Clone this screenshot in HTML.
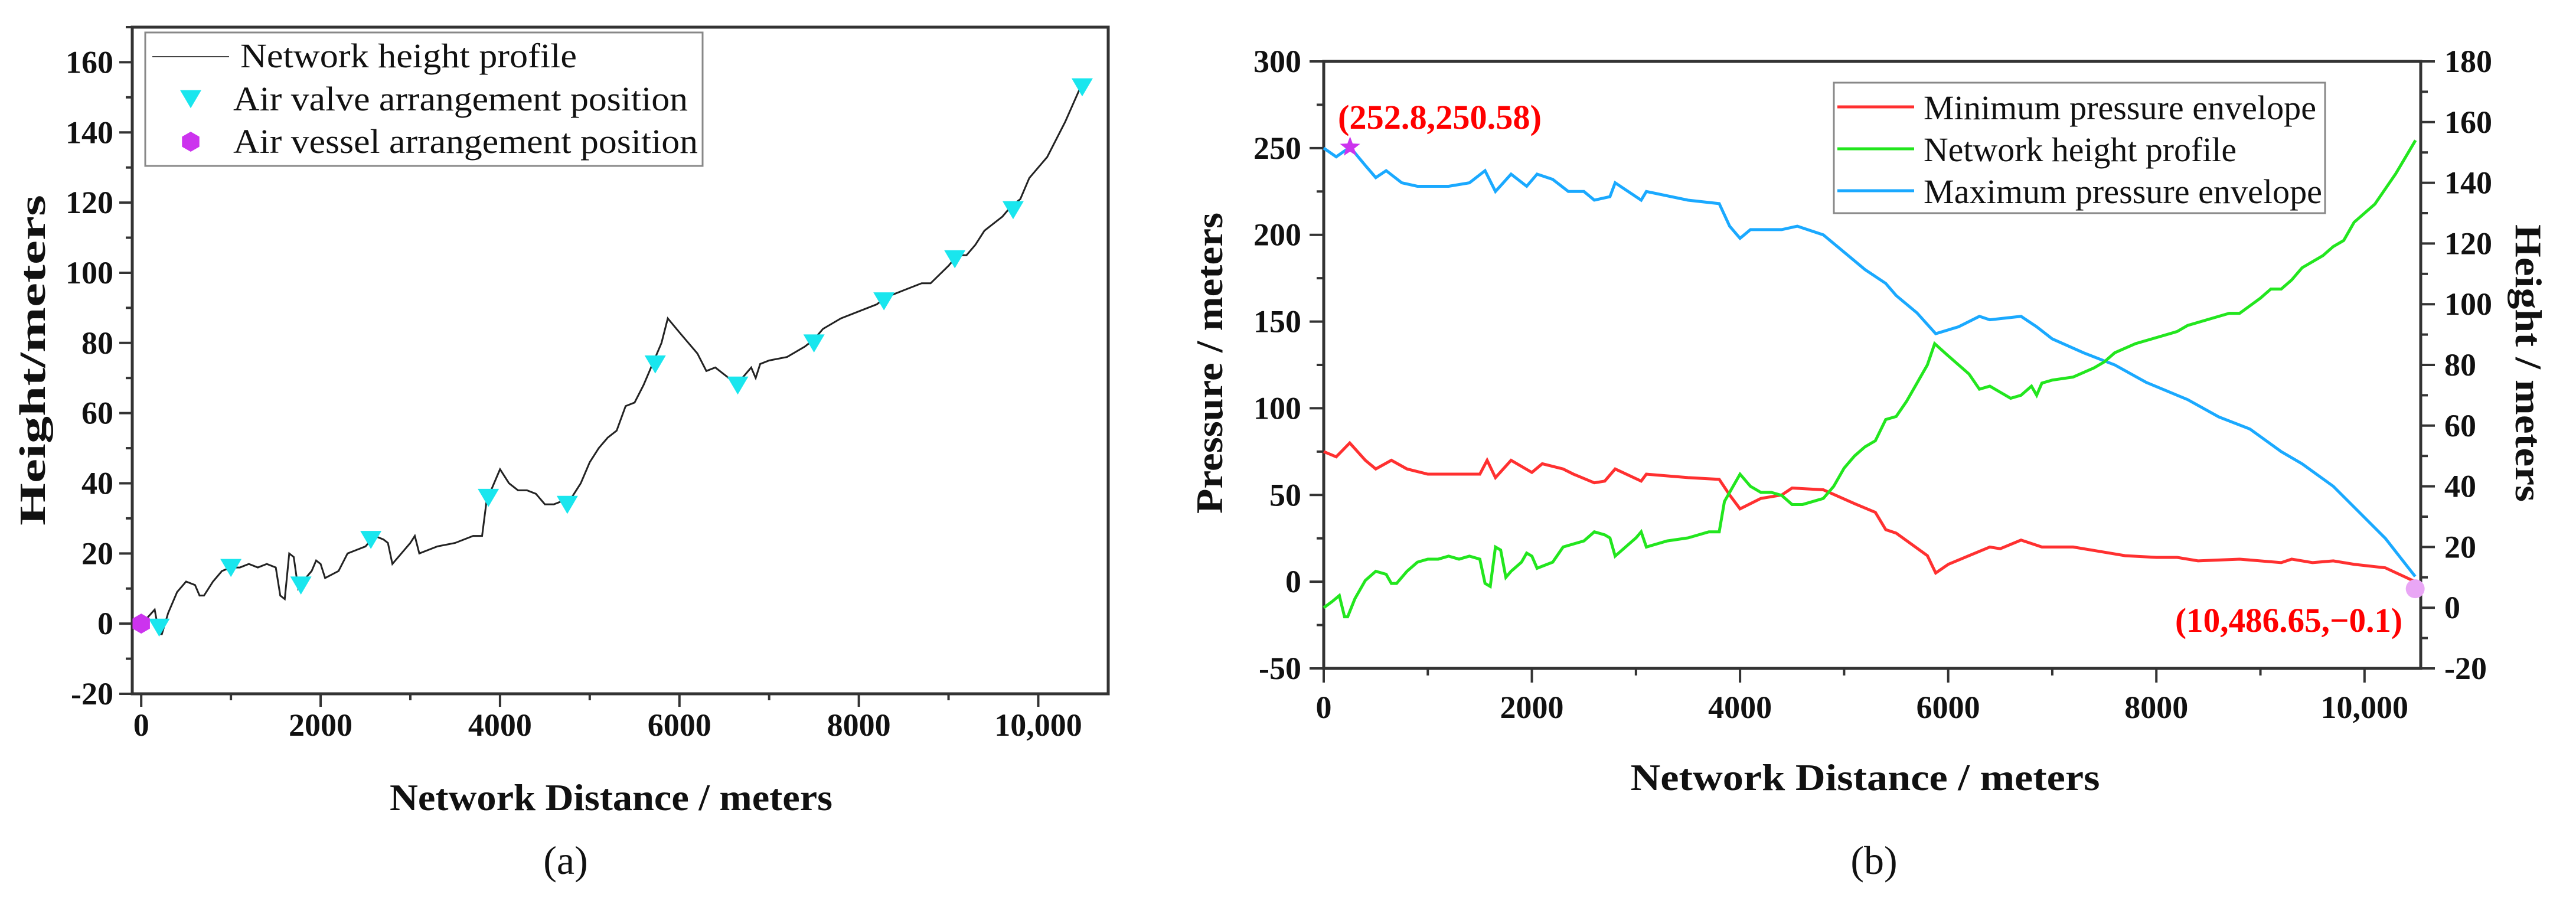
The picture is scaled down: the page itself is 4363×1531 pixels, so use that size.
<!DOCTYPE html>
<html><head><meta charset="utf-8">
<style>
html,body{margin:0;padding:0;background:#fff;}
svg{display:block;font-family:"Liberation Serif",serif;}
</style></head>
<body>
<svg id="fig" width="4363" height="1531" viewBox="0 0 4363 1531" xmlns="http://www.w3.org/2000/svg"></svg>
<script>
// ---------- Data: chart (a) height profile ----------
const profileDist = [0,80,150,200,230,300,400,500,600,650,700,800,900,1000,1100,1200,1300,1400,1500,1550,1600,1650,1700,1750,1800,1900,1950,2000,2050,2200,2300,2400,2500,2600,2700,2750,2800,2900,3000,3050,3100,3200,3300,3500,3700,3800,3850,3900,4000,4100,4200,4300,4400,4500,4600,4700,4800,4900,5000,5100,5200,5300,5400,5500,5600,5700,5800,5870,6000,6100,6200,6300,6400,6500,6600,6700,6800,6850,6900,7000,7200,7400,7500,7600,7800,8000,8200,8300,8500,8700,8800,9000,9100,9200,9300,9400,9600,9700,9800,9900,10000,10100,10300,10490];
const profileHeight = [0,2,4,-3,-3,3,9,12,11,8,8,12,15,16,16,17,16,17,16,8,7,20,19,10,12,15,18,17,13,15,20,21,22,25,24,23,17,20,23,25,20,21,22,23,25,25,35,38,44,40,38,38,37,34,34,35,36,40,46,50,53,55,62,63,68,74,80,87,83,80,77,72,73,71,69,70,73,70,74,75,76,79,81,84,87,89,91,93,95,97,97,102,105,105,108,112,116,119,121,127,130,133,143,154];
const valveDist = [200,1000,1780,2560,3870,4750,5730,6650,7500,8280,9070,9720,10490];
const valveHeight = [-1,16,11,24,36,34,74,68,80,92,104,118,153];
const vesselDist = [0];
const vesselHeight = [0];
const aYTicks = [-20,0,20,40,60,80,100,120,140,160];
const aXTicks = [0,2000,4000,6000,8000,10000];
const aXTickLabels = ["0","2000","4000","6000","8000","10,000"];
// ---------- Data: chart (b) ----------
const minDist = [0,120,250,400,500,650,800,1000,1500,1570,1650,1800,2000,2100,2300,2400,2600,2700,2800,3050,3100,3500,3800,3900,4000,4200,4400,4500,4800,5100,5300,5400,5500,5800,5880,6000,6200,6400,6500,6700,6900,7200,7500,7700,8000,8200,8400,8800,9200,9300,9500,9700,9900,10200,10487];
const minPressure = [75,72,80,70,65,70,65,62,62,70,60,70,63,68,65,62,57,58,65,58,62,60,59,50,42,48,50,54,53,45,40,30,28,15,5,10,15,20,19,24,20,20,17,15,14,14,12,13,11,13,11,12,10,8,0];
const maxDist = [0,120,253,400,500,600,750,900,1200,1400,1550,1650,1800,1950,2050,2200,2350,2500,2600,2750,2800,3050,3100,3500,3800,3900,4000,4100,4400,4550,4800,5000,5200,5400,5500,5700,5880,6100,6300,6400,6700,6850,7000,7300,7600,7900,8300,8600,8900,9200,9400,9700,9950,10200,10487];
const maxPressure = [250,245,250.58,240,233,237,230,228,228,230,237,225,235,228,235,232,225,225,220,222,230,220,225,220,218,205,198,203,203,205,200,190,180,172,165,155,143,147,153,151,153,147,140,132,125,115,105,95,88,75,68,55,40,25,3];
const bLeftTicks = [-50,0,50,100,150,200,250,300];
const bRightTicks = [-20,0,20,40,60,80,100,120,140,160,180];
const bXTicks = [0,2000,4000,6000,8000,10000];
const bXTickLabels = ["0","2000","4000","6000","8000","10,000"];

const NS = "http://www.w3.org/2000/svg";
const svg = document.getElementById('fig');
function el(tag, attrs, parent, text){
  const e = document.createElementNS(NS, tag);
  for (const k in attrs) e.setAttribute(k, attrs[k]);
  if (text !== undefined) e.textContent = text;
  (parent || svg).appendChild(e);
  return e;
}
const AX = "#333";
const TF = 54;

// ===== Chart A =====
const A = {l:224, r:1877, t:46, b:1175, x0:-100, x1:10780, y0:-20, y1:170};
const ax = v => A.l + (v - A.x0) / (A.x1 - A.x0) * (A.r - A.l);
const ay = v => A.b - (v - A.y0) / (A.y1 - A.y0) * (A.b - A.t);
const gA = el('g', {});


const frameA = el('rect', {x:A.l, y:A.t, width:A.r-A.l, height:A.b-A.t, fill:'none', stroke:AX, 'stroke-width':5}, gA);


for (let v = -20; v <= 170; v += 10) {
  const major = aYTicks.includes(v);
  const t = el('line', {x1:A.l, x2:A.l-(major?22:11), y1:ay(v), y2:ay(v), stroke:AX, 'stroke-width':4}, gA);
  
  
}
aYTicks.forEach(v => {
  const t = el('text', {x:A.l-32, y:ay(v)+18, 'text-anchor':'end', 'font-size':TF, 'font-weight':'bold', fill:'#111'}, gA, String(v));
  
  
});
for (let v = 0; v <= 10000; v += 1000) {
  const major = aXTicks.includes(v);
  const t = el('line', {x1:ax(v), x2:ax(v), y1:A.b, y2:A.b+(major?22:11), stroke:AX, 'stroke-width':4}, gA);
  
  
}
aXTicks.forEach((v,i) => {
  const t = el('text', {x:ax(v), y:1246, 'text-anchor':'middle', 'font-size':TF, 'font-weight':'bold', fill:'#111'}, gA, aXTickLabels[i]);
  
  
});
const lineA = el('polyline', {points: profileDist.map((d,i)=>ax(d)+','+ay(profileHeight[i])).join(' '), fill:'none', stroke:'#222', 'stroke-width':3}, gA);


function tri(cx, cy, s){ return `${cx-s},${cy-s*0.8} ${cx+s},${cy-s*0.8} ${cx},${cy+s*0.9}`; }
valveDist.forEach((d,i) => {
  const m = el('polygon', {points: tri(ax(d), ay(valveHeight[i]), 18), fill:'#19e6ee'}, gA);
  
  
});
function hex(cx, cy, r){ let p=[]; for(let k=0;k<6;k++){const a=Math.PI/3*k+Math.PI/6; p.push((cx+r*Math.cos(a))+','+(cy+r*Math.sin(a)));} return p.join(' '); }
vesselDist.forEach((d,i) => {
  const m = el('polygon', {points: hex(ax(d), ay(vesselHeight[i]), 17), fill:'#cc33ee'}, gA);
  
  
});
// legend A
const legA = el('g', {}, gA);


el('rect', {x:246, y:55, width:944, height:226, fill:'#fff', stroke:'#888', 'stroke-width':3}, legA);
el('line', {x1:258, x2:388, y1:96, y2:96, stroke:'#444', 'stroke-width':2}, legA);
el('polygon', {points: tri(323, 167, 18), fill:'#19e6ee'}, legA);
el('polygon', {points: hex(323, 240, 17), fill:'#cc33ee'}, legA);
const la1 = el('text', {x:407, y:114, 'font-size':58, fill:'#111', textLength:570, lengthAdjust:'spacingAndGlyphs'}, legA, 'Network height profile');


const la2 = el('text', {x:395, y:187, 'font-size':58, fill:'#111', textLength:770, lengthAdjust:'spacingAndGlyphs'}, legA, 'Air valve arrangement position');


const la3 = el('text', {x:395, y:259, 'font-size':58, fill:'#111', textLength:787, lengthAdjust:'spacingAndGlyphs'}, legA, 'Air vessel arrangement position');


const yTitleA = el('text', {x:0, y:0, transform:'translate(76,610) rotate(-90)', 'text-anchor':'middle', 'font-size':62, 'font-weight':'bold', fill:'#111', textLength:560, lengthAdjust:'spacingAndGlyphs'}, gA, 'Height/meters');


const xTitleA = el('text', {x:1035, y:1372, 'text-anchor':'middle', 'font-size':64, 'font-weight':'bold', fill:'#111', textLength:750, lengthAdjust:'spacingAndGlyphs'}, gA, 'Network Distance / meters');


const capA = el('text', {x:958, y:1480, 'text-anchor':'middle', 'font-size':68, fill:'#111'}, gA, '(a)');



// ===== Chart B =====
const B = {l:2242, r:4100, t:104, b:1132, x0:0, x1:10540, yl0:-50, yl1:300, yr0:-20, yr1:180};
const bx = v => B.l + (v - B.x0) / (B.x1 - B.x0) * (B.r - B.l);
const byl = v => B.b - (v - B.yl0) / (B.yl1 - B.yl0) * (B.b - B.t);
const byr = v => B.b - (v - B.yr0) / (B.yr1 - B.yr0) * (B.b - B.t);
const gB = el('g', {});


const frameB = el('rect', {x:B.l, y:B.t, width:B.r-B.l, height:B.b-B.t, fill:'none', stroke:AX, 'stroke-width':5}, gB);


for (let v = -50; v <= 300; v += 25) {
  const major = bLeftTicks.includes(v);
  const t = el('line', {x1:B.l, x2:B.l-(major?24:12), y1:byl(v), y2:byl(v), stroke:AX, 'stroke-width':4}, gB);
  
  
}
bLeftTicks.forEach(v => {
  const t = el('text', {x:2204, y:byl(v)+18, 'text-anchor':'end', 'font-size':TF, 'font-weight':'bold', fill:'#111'}, gB, String(v));
  
  
});
for (let v = -20; v <= 180; v += 10) {
  const major = bRightTicks.includes(v);
  const t = el('line', {x1:B.r, x2:B.r+(major?24:12), y1:byr(v), y2:byr(v), stroke:AX, 'stroke-width':4}, gB);
  
  
}
bRightTicks.forEach(v => {
  const t = el('text', {x:4140, y:byr(v)+18, 'text-anchor':'start', 'font-size':TF, 'font-weight':'bold', fill:'#111'}, gB, String(v));
  
  
});
for (let v = 0; v <= 10000; v += 1000) {
  const major = bXTicks.includes(v);
  const t = el('line', {x1:bx(v), x2:bx(v), y1:B.b, y2:B.b+(major?24:12), stroke:AX, 'stroke-width':4}, gB);
  
  
}
bXTicks.forEach((v,i) => {
  const t = el('text', {x:bx(v), y:1216, 'text-anchor':'middle', 'font-size':TF, 'font-weight':'bold', fill:'#111'}, gB, bXTickLabels[i]);
  
  
});
const lineMax = el('polyline', {points: maxDist.map((d,i)=>bx(d)+','+byl(maxPressure[i])).join(' '), fill:'none', stroke:'#1aa9ff', 'stroke-width':5}, gB);


const lineMin = el('polyline', {points: minDist.map((d,i)=>bx(d)+','+byl(minPressure[i])).join(' '), fill:'none', stroke:'#ff3030', 'stroke-width':5}, gB);


const lineH = el('polyline', {points: profileDist.map((d,i)=>bx(d)+','+byr(profileHeight[i])).join(' '), fill:'none', stroke:'#22e61e', 'stroke-width':5}, gB);


// annotations
function star(cx, cy, R){ let p=[]; for(let k=0;k<10;k++){const r=k%2?R*0.42:R; const a=-Math.PI/2+Math.PI/5*k; p.push((cx+r*Math.cos(a))+','+(cy+r*Math.sin(a)));} return p.join(' '); }
const st = el('polygon', {points: star(bx(maxDist[2]), byl(maxPressure[2]), 18), fill:'#cc33ee'}, gB);


const dot = el('circle', {cx:bx(minDist[minDist.length-1]), cy:byl(minPressure[minPressure.length-1])+12, r:16, fill:'#e9a6f5'}, gB);


const an1 = el('text', {x:2266, y:218, 'font-size':58, 'font-weight':'bold', fill:'#ff0000', textLength:345, lengthAdjust:'spacingAndGlyphs'}, gB, '(252.8,250.58)');


const an2 = el('text', {x:4069, y:1070, 'text-anchor':'end', 'font-size':58, 'font-weight':'bold', fill:'#ff0000', textLength:385, lengthAdjust:'spacingAndGlyphs'}, gB, '(10,486.65,\u22120.1)');


// legend B
const legB = el('g', {}, gB);


el('rect', {x:3106, y:140, width:832, height:221, fill:'#fff', stroke:'#888', 'stroke-width':3}, legB);
el('line', {x1:3112, x2:3242, y1:181, y2:181, stroke:'#ff3030', 'stroke-width':5}, legB);
el('line', {x1:3112, x2:3242, y1:252, y2:252, stroke:'#22e61e', 'stroke-width':5}, legB);
el('line', {x1:3112, x2:3242, y1:323, y2:323, stroke:'#1aa9ff', 'stroke-width':5}, legB);
const lb1 = el('text', {x:3258, y:202, 'font-size':58, fill:'#111', textLength:665, lengthAdjust:'spacingAndGlyphs'}, legB, 'Minimum pressure envelope');


const lb2 = el('text', {x:3258, y:273, 'font-size':58, fill:'#111', textLength:530, lengthAdjust:'spacingAndGlyphs'}, legB, 'Network height profile');


const lb3 = el('text', {x:3258, y:344, 'font-size':58, fill:'#111', textLength:675, lengthAdjust:'spacingAndGlyphs'}, legB, 'Maximum pressure envelope');


const yTitleBL = el('text', {x:0, y:0, transform:'translate(2070,615) rotate(-90)', 'text-anchor':'middle', 'font-size':64, 'font-weight':'bold', fill:'#111', textLength:510, lengthAdjust:'spacingAndGlyphs'}, gB, 'Pressure / meters');


const yTitleBR = el('text', {x:0, y:0, transform:'translate(4261,615) rotate(90)', 'text-anchor':'middle', 'font-size':64, 'font-weight':'bold', fill:'#111', textLength:470, lengthAdjust:'spacingAndGlyphs'}, gB, 'Height / meters');


const xTitleB = el('text', {x:3159, y:1338, 'text-anchor':'middle', 'font-size':64, 'font-weight':'bold', fill:'#111', textLength:795, lengthAdjust:'spacingAndGlyphs'}, gB, 'Network Distance / meters');


const capB = el('text', {x:3174, y:1480, 'text-anchor':'middle', 'font-size':68, fill:'#111'}, gB, '(b)');


</script>
</body></html>
